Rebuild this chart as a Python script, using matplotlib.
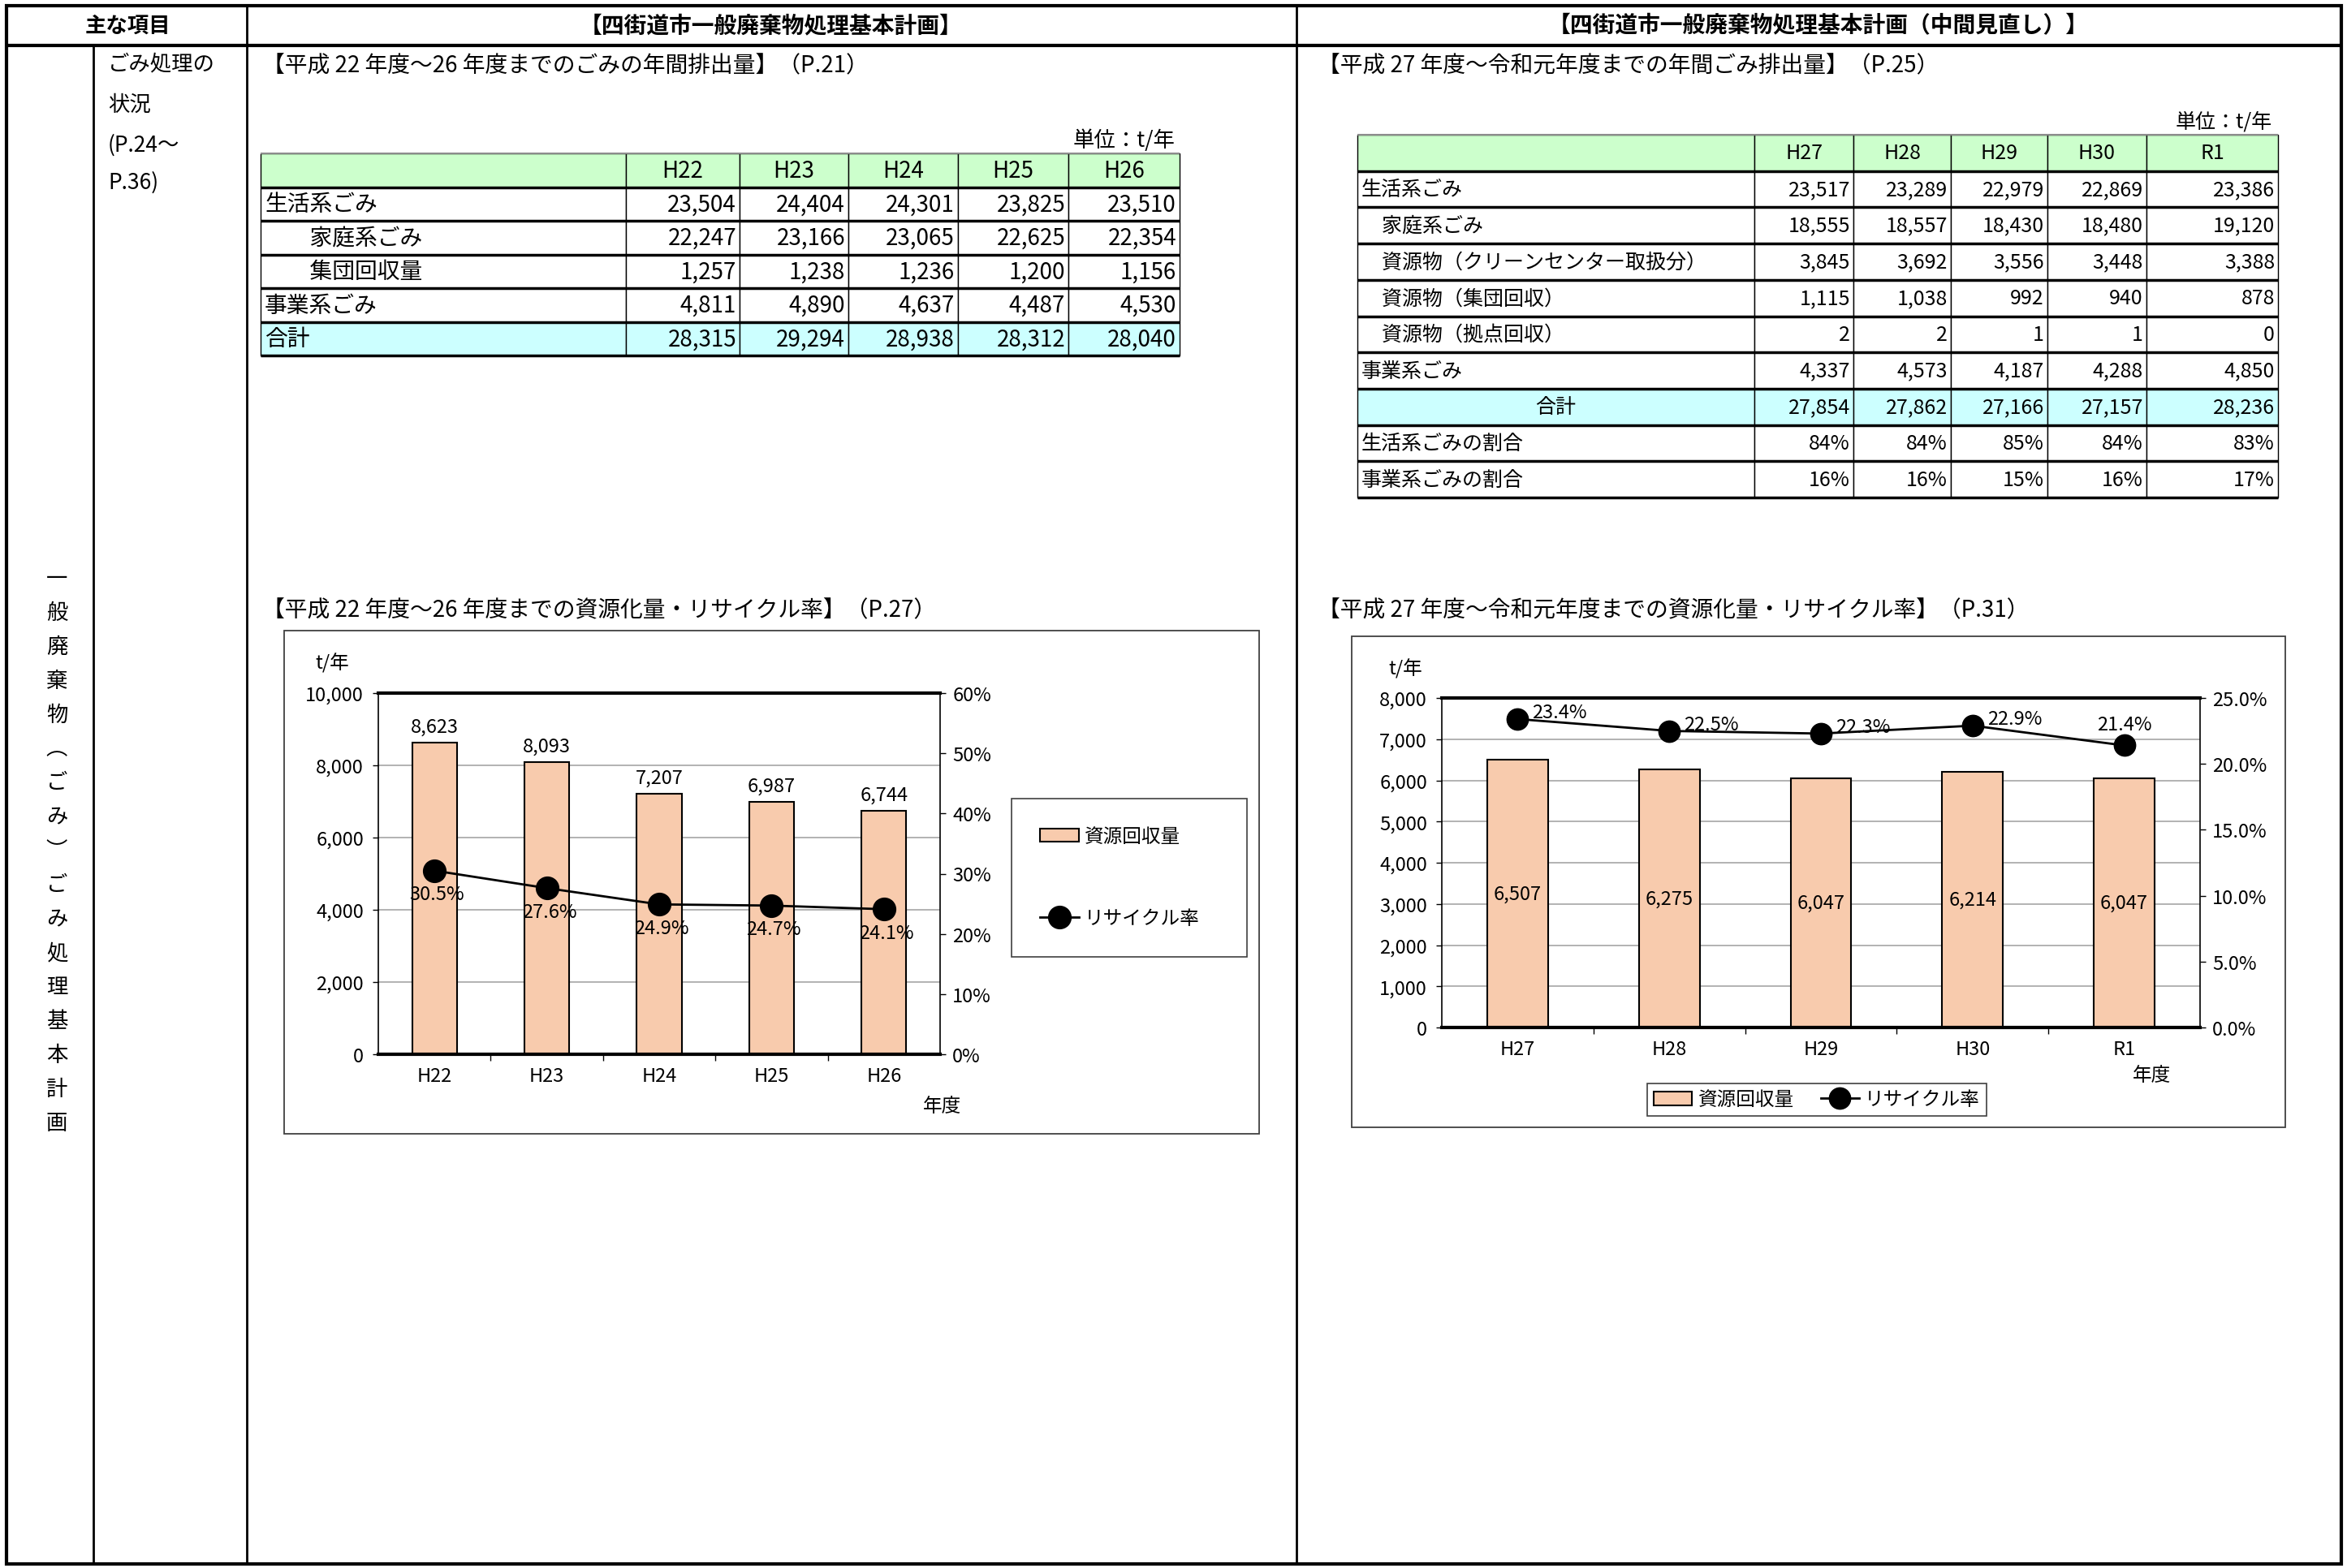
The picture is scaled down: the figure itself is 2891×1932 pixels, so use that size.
import numpy as np
import matplotlib
matplotlib.use('Agg')
import matplotlib.pyplot as plt
from matplotlib.table import Table
from matplotlib.patches import Rectangle
from matplotlib.ticker import FuncFormatter, MultipleLocator, FixedLocator

plt.rcParams['font.family'] = ['Noto Sans CJK JP', 'DejaVu Sans']

W, H = 2891, 1933

# ---- table data (left: 基本計画, right: 中間見直し) ----
years_L = ['H22', 'H23', 'H24', 'H25', 'H26']
rows_L = ['生活系ごみ', '\u3000\u3000家庭系ごみ', '\u3000\u3000集団回収量', '事業系ごみ', '合計']
seikatsu_L = [23504, 24404, 24301, 23825, 23510]
katei_L = [22247, 23166, 23065, 22625, 22354]
shudan_L = [1257, 1238, 1236, 1200, 1156]
jigyo_L = [4811, 4890, 4637, 4487, 4530]
total_L = [28315, 29294, 28938, 28312, 28040]

years_R = ['H27', 'H28', 'H29', 'H30', 'R1']
rows_R = ['生活系ごみ', '\u3000家庭系ごみ', '\u3000資源物（クリーンセンター取扱分）',
          '\u3000資源物（集団回収）', '\u3000資源物（拠点回収）', '事業系ごみ', '合計',
          '生活系ごみの割合', '事業系ごみの割合']
seikatsu_R = [23517, 23289, 22979, 22869, 23386]
katei_R = [18555, 18557, 18430, 18480, 19120]
cc_R = [3845, 3692, 3556, 3448, 3388]
shudan_R = [1115, 1038, 992, 940, 878]
kyoten_R = [2, 2, 1, 1, 0]
jigyo_R = [4337, 4573, 4187, 4288, 4850]
total_R = [27854, 27862, 27166, 27157, 28236]
share_seikatsu_R = [84, 84, 85, 84, 83]
share_jigyo_R = [16, 16, 15, 16, 17]

# ---- chart data ----
recov_L = [8623, 8093, 7207, 6987, 6744]
rate_L = [30.5, 27.6, 24.9, 24.7, 24.1]
recov_R = [6507, 6275, 6047, 6214, 6047]
rate_R = [23.4, 22.5, 22.3, 22.9, 21.4]
rate_pos_R = ['right', 'right', 'right', 'right', 'above']

PEACH = '#F8CBAD'
GREEN = '#CCFFCC'
CYAN = '#CCFFFF'


def fbox(x0, y0, x1, y1):
    return [x0 / W, 1 - y1 / H, (x1 - x0) / W, (y1 - y0) / H]


fig = plt.figure(figsize=(W / 100, H / 100), dpi=100)
bg = fig.add_axes([0, 0, 1, 1])
bg.set_xlim(0, W)
bg.set_ylim(H, 0)
bg.axis('off')

# page grid
bg.add_patch(Rectangle((8, 8), 2876, 1920, fill=False, lw=3, ec='black'))
bg.hlines(57, 8, 2884, lw=3, color='black')
bg.vlines([304, 1597], 8, 1928, lw=2, color='black')
bg.vlines(115, 57, 1928, lw=2, color='black')

bg.text(157, 32, '主な項目', fontsize=19, fontweight='bold', ha='center', va='center')
bg.text(950, 32, '【四街道市一般廃棄物処理基本計画】', fontsize=20, fontweight='bold',
        ha='center', va='center')
bg.text(2240, 32, '【四街道市一般廃棄物処理基本計画（中間見直し）】', fontsize=20,
        fontweight='bold', ha='center', va='center')

for yy, s in zip([79, 129, 179, 225], ['ごみ処理の', '状況', '(P.24～', 'P.36)']):
    bg.text(133, yy, s, fontsize=19, ha='left', va='center')

bg.text(70, 700, '\n'.join('一般廃棄物︵ごみ︶ごみ処理基本計画'), fontsize=19,
        ha='center', va='top', linespacing=1.71)

bg.text(323, 81, '【平成 22 年度～26 年度までのごみの年間排出量】（P.21）', fontsize=20,
        ha='left', va='center')
bg.text(1623, 81, '【平成 27 年度～令和元年度までの年間ごみ排出量】（P.25）', fontsize=20,
        ha='left', va='center')
bg.text(1447, 173, '単位：t/年', fontsize=19, ha='right', va='center')
bg.text(2799, 151, '単位：t/年', fontsize=18, ha='right', va='center')
bg.text(323, 752, '【平成 22 年度～26 年度までの資源化量・リサイクル率】（P.27）', fontsize=20,
        ha='left', va='center')
bg.text(1623, 752, '【平成 27 年度～令和元年度までの資源化量・リサイクル率】（P.31）',
        fontsize=20, ha='left', va='center')


def draw_table(x_edges, y0, y1, cols, labels, texts, fs, total_idx, center_total):
    widths = np.diff(x_edges)
    n = len(labels) + 1
    rh = (y1 - y0) / n
    tb = Table(bg, bbox=[x_edges[0] / W, 1 - y1 / H, (x_edges[-1] - x_edges[0]) / W, (y1 - y0) / H])
    for j, c in enumerate([''] + cols):
        tb.add_cell(0, j, widths[j], rh, text=c, loc='center', facecolor=GREEN)
    for i, lab in enumerate(labels):
        fc = CYAN if i == total_idx else 'white'
        loc = 'center' if (i == total_idx and center_total) else 'left'
        cell = tb.add_cell(i + 1, 0, widths[0], rh, text=lab, loc=loc, facecolor=fc)
        cell.PAD = 5 / widths[0]
        for j, s in enumerate(texts[i]):
            cell = tb.add_cell(i + 1, j + 1, widths[j + 1], rh, text=s, loc='right', facecolor=fc)
            cell.PAD = 4 / widths[j + 1]
    for cell in tb.get_celld().values():
        cell.set_linewidth(1.0)
        cell.set_edgecolor('black')
    tb.auto_set_font_size(False)
    tb.set_fontsize(fs)
    bg.add_table(tb)
    edges = y0 + rh * np.arange(1, n + 1)
    bg.hlines(edges, x_edges[0], x_edges[-1], lw=2.5, color='black', zorder=5)
    bg.hlines(y0, x_edges[0], x_edges[-1], lw=1.5, color='#8c8c8c', zorder=5)


vals_L = [seikatsu_L, katei_L, shudan_L, jigyo_L, total_L]
texts_L = [[f'{v:,}' for v in r] for r in vals_L]
draw_table([321, 771, 911, 1045, 1180, 1316, 1453], 190, 439, years_L, rows_L, texts_L, 20, 4, False)

vals_R = [seikatsu_R, katei_R, cc_R, shudan_R, kyoten_R, jigyo_R, total_R]
texts_R = [[f'{v:,}' for v in r] for r in vals_R]
texts_R += [[f'{v}%' for v in share_seikatsu_R], [f'{v}%' for v in share_jigyo_R]]
draw_table([1672, 2161, 2283, 2403, 2522, 2644, 2806], 167, 614, years_R, rows_R, texts_R, 18, 6, True)

# chart frames
bg.add_patch(Rectangle((350, 778), 1201, 620, fill=False, lw=1.3, ec='#404040'))
bg.add_patch(Rectangle((1665, 785), 1150, 605, fill=False, lw=1.3, ec='#404040'))

FS = 17


def style_axes(ax, ax2, n):
    ax.set_xlim(-0.5, n - 0.5)
    ax.set_xticks(range(n))
    ax.xaxis.set_minor_locator(FixedLocator(np.arange(0.5, n - 1, 1.0)))
    ax.tick_params(axis='x', which='major', length=0, pad=11, labelsize=FS)
    ax.tick_params(axis='x', which='minor', length=6, width=1, direction='out')
    ax.tick_params(axis='y', length=5, width=1, pad=8, labelsize=FS, direction='out')
    ax2.tick_params(axis='y', length=5, width=1, pad=6, labelsize=FS, direction='out')
    ax.grid(axis='y', color='#a6a6a6', lw=1.2)
    ax.set_axisbelow(True)
    ax.spines['top'].set_linewidth(3)
    ax.spines['bottom'].set_linewidth(3)
    ax.spines['left'].set_linewidth(1.2)
    ax.spines['right'].set_visible(False)
    for s in ['top', 'bottom', 'left']:
        ax2.spines[s].set_visible(False)
    ax2.spines['right'].set_linewidth(1.2)


# ---- left chart ----
axL = fig.add_axes(fbox(466, 855, 1158, 1300))
xL = np.arange(len(years_L))
barsL = axL.bar(xL, recov_L, width=0.4, color=PEACH, edgecolor='black', lw=1.5)
axL.set_ylim(0, 10000)
axL.yaxis.set_major_locator(MultipleLocator(2000))
axL.yaxis.set_major_formatter(FuncFormatter(lambda v, p: f'{int(v):,}'))
axL.set_xticklabels(years_L)
axL.bar_label(barsL, labels=[f'{v:,}' for v in recov_L], padding=6, fontsize=FS)
axL2 = axL.twinx()
lineL, = axL2.plot(xL, rate_L, color='black', lw=2, marker='o', ms=20, zorder=4)
axL2.set_ylim(0, 60)
axL2.yaxis.set_major_locator(MultipleLocator(10))
axL2.yaxis.set_major_formatter(FuncFormatter(lambda v, p: f'{v:.0f}%'))
for xi, r in zip(xL, rate_L):
    axL2.annotate(f'{r}%', (xi, r), xytext=(2, -21), textcoords='offset points',
                  ha='center', va='center', fontsize=FS, zorder=3)
style_axes(axL, axL2, len(years_L))
fig.text(409 / W, 1 - 817 / H, 't/年', fontsize=FS, ha='center', va='center')
fig.text(1160 / W, 1 - 1363 / H, '年度', fontsize=FS, ha='center', va='center')
legL = axL2.legend([barsL, lineL], ['資源回収量', 'リサイクル率'], loc='upper left',
                   bbox_to_anchor=fbox(1246, 985, 1536, 1189), bbox_transform=fig.transFigure,
                   mode='expand', fontsize=FS, labelspacing=3.3, borderpad=1.5,
                   handlelength=2.0, handletextpad=0.3, fancybox=False, edgecolor='#404040',
                   framealpha=1, borderaxespad=0)
legL.get_frame().set_linewidth(1.2)

# ---- right chart ----
axR = fig.add_axes(fbox(1776, 861, 2710, 1267))
xR = np.arange(len(years_R))
barsR = axR.bar(xR, recov_R, width=0.4, color=PEACH, edgecolor='black', lw=1.5)
axR.set_ylim(0, 8000)
axR.yaxis.set_major_locator(MultipleLocator(1000))
axR.yaxis.set_major_formatter(FuncFormatter(lambda v, p: f'{int(v):,}'))
axR.set_xticklabels(years_R)
axR.bar_label(barsR, labels=[f'{v:,}' for v in recov_R], label_type='center', fontsize=FS)
axR2 = axR.twinx()
lineR, = axR2.plot(xR, rate_R, color='black', lw=2, marker='o', ms=19, zorder=4)
axR2.set_ylim(0, 25)
axR2.yaxis.set_major_locator(MultipleLocator(5))
axR2.yaxis.set_major_formatter(FuncFormatter(lambda v, p: f'{v:.1f}%'))
for xi, r, pos in zip(xR, rate_R, rate_pos_R):
    if pos == 'above':
        axR2.annotate(f'{r}%', (xi, r), xytext=(0, 19), textcoords='offset points',
                      ha='center', va='center', fontsize=FS, zorder=3)
    else:
        axR2.annotate(f'{r}%', (xi, r), xytext=(13, 6), textcoords='offset points',
                      ha='left', va='center', fontsize=FS, zorder=3)
style_axes(axR, axR2, len(years_R))
fig.text(1731 / W, 1 - 824 / H, 't/年', fontsize=FS, ha='center', va='center')
fig.text(2651 / W, 1 - 1326 / H, '年度', fontsize=FS, ha='center', va='center')
legR = axR2.legend([barsR, lineR], ['資源回収量', 'リサイクル率'], loc='center',
                   bbox_to_anchor=(2238 / W, 1 - 1356 / H), bbox_transform=fig.transFigure,
                   ncol=2, fontsize=FS, handlelength=2.0, handletextpad=0.3, columnspacing=1.4,
                   borderpad=0.35, fancybox=False, edgecolor='#404040', framealpha=1)
legR.get_frame().set_linewidth(1.2)

fig.savefig('out.png', dpi=100, facecolor='white')
